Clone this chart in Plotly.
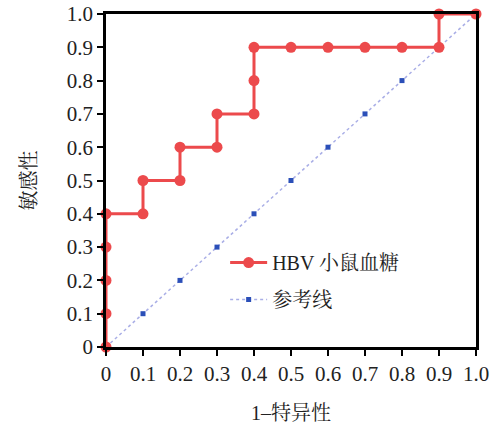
import plotly.graph_objects as go

roc_x = [0, 0, 0, 0, 0, 0.1, 0.1, 0.2, 0.2, 0.3, 0.3, 0.4, 0.4, 0.4, 0.5, 0.6, 0.7, 0.8, 0.9, 0.9, 1.0]
roc_y = [0, 0.1, 0.2, 0.3, 0.4, 0.4, 0.5, 0.5, 0.6, 0.6, 0.7, 0.7, 0.8, 0.9, 0.9, 0.9, 0.9, 0.9, 0.9, 1.0, 1.0]
ref_x = [0, 0.1, 0.2, 0.3, 0.4, 0.5, 0.6, 0.7, 0.8, 0.9, 1.0]
ref_y = [0, 0.1, 0.2, 0.3, 0.4, 0.5, 0.6, 0.7, 0.8, 0.9, 1.0]
tick_vals = [0, 0.1, 0.2, 0.3, 0.4, 0.5, 0.6, 0.7, 0.8, 0.9, 1.0]
tick_text = ["0", "0.1", "0.2", "0.3", "0.4", "0.5", "0.6", "0.7", "0.8", "0.9", "1.0"]

FONT = "Liberation Serif, Noto Serif CJK SC, Noto Sans CJK SC, serif"

fig = go.Figure()
fig.add_trace(go.Scatter(
    x=ref_x, y=ref_y, mode="lines+markers", name="参考线", legendgroup="ref", legendrank=2,
    line=dict(color="#a9aee6", width=1.5, dash="dot"),
    marker=dict(symbol="square", size=5, color="#2b4fb8"),
    cliponaxis=False,
))
fig.add_trace(go.Scatter(
    x=roc_x, y=roc_y, mode="lines+markers", name="HBV 小鼠血糖", legendgroup="roc", legendrank=1,
    line=dict(color="#ec4a4c", width=3),
    marker=dict(symbol="circle", size=11, color="#ec4a4c"),
    cliponaxis=False,
))

axis_common = dict(
    range=[0, 1], tickvals=tick_vals, ticktext=tick_text,
    showline=True, linecolor="black", linewidth=2.5, mirror=True,
    ticks="outside", ticklen=6, tickwidth=2, tickcolor="black",
    showgrid=False, zeroline=False, automargin=False,
    tickfont=dict(family=FONT, size=21, color="#222"),
)

fig.update_layout(
    width=494, height=434,
    margin=dict(l=106, r=18, t=14, b=87, autoexpand=False),
    plot_bgcolor="white", paper_bgcolor="white",
    font=dict(family=FONT, size=20, color="#222"),
    xaxis=dict(**axis_common, title=dict(text="1–特异性", font=dict(family=FONT, size=20), standoff=22)),
    yaxis=dict(**axis_common, title=dict(text="敏感性", font=dict(family=FONT, size=20), standoff=25)),
    legend=dict(x=0.322, y=0.312, xanchor="left", yanchor="top", traceorder="grouped",
                bgcolor="rgba(0,0,0,0)", font=dict(family=FONT, size=20),
                itemwidth=37, tracegroupgap=8),
    showlegend=True,
)

fig.write_html("out.html")
